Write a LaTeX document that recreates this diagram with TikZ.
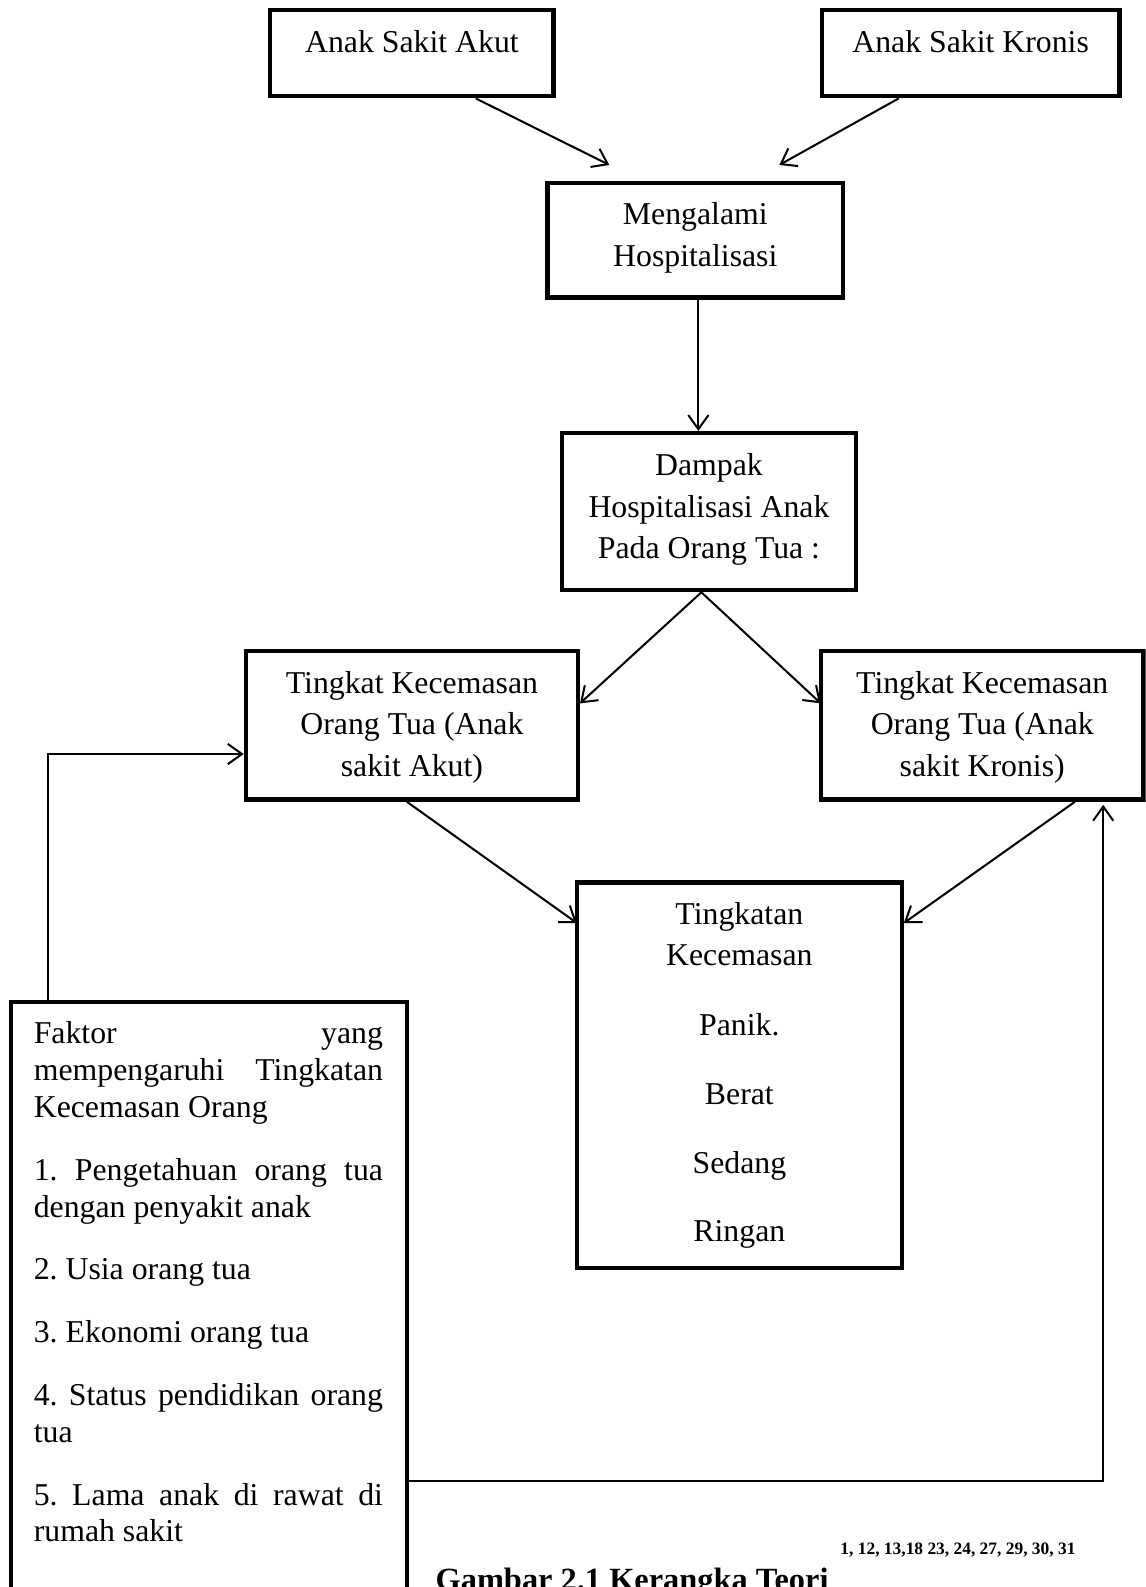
\documentclass[tikz,border=0pt]{standalone}
\usepackage{fontspec}
\setmainfont{Liberation Serif}
\usetikzlibrary{arrows.meta}
\begin{document}
\begin{tikzpicture}[x=0.5pt,y=-0.5pt,
  box/.style={draw, line width=2.2pt, rectangle, inner sep=0pt},
  txt/.style={font=\fontsize{15.7}{20.5}\selectfont, align=center, inner sep=0pt, anchor=base},
  conn/.style={line width=1pt, -{Straight Barb[length=7pt,width=10pt]}}]
\useasboundingbox (0,0) rectangle (1132,1568);
\clip (0,0) rectangle (1132,1568);
% boxes
\node[box, minimum width=140pt, minimum height=42.5pt] (A) at (407,52.5) {};
\node[box, minimum width=147pt, minimum height=42.5pt] (B) at (959,52.5) {};
\node[box, minimum width=146pt, minimum height=56.5pt] (M) at (687,237.5) {};
\node[box, minimum width=145.5pt, minimum height=77.5pt] (D) at (700.5,505.5) {};
\node[box, minimum width=164pt, minimum height=73.5pt] (TA) at (407,716.5) {};
\node[box, minimum width=159.5pt, minimum height=73.5pt] (TK) at (970.5,716.5) {};
\node[box, minimum width=160.5pt, minimum height=190.5pt] (TT) at (730.5,1062.5) {};
\node[box, minimum width=195.5pt, minimum height=295pt] (F) at (206.5,1285) {};
% texts (base anchor = baseline of the last line)
\node[txt] (At) at (407,52) {Anak Sakit Akut};
\node[txt] (Bt) at (959,52) {Anak Sakit Kronis};
\node[txt] (Mt) at (687,263) {Mengalami\\Hospitalisasi};
\node[txt] (Dt) at (700.5,552) {Dampak\\Hospitalisasi Anak\\Pada Orang Tua :};
\node[txt] (TAt) at (407,767) {Tingkat Kecemasan\\Orang Tua (Anak\\sakit Akut)};
\node[txt] (TKt) at (970.5,767) {Tingkat Kecemasan\\Orang Tua (Anak\\sakit Kronis)};
\node[txt] (TTt) at (730.5,1227) {Tingkatan\\Kecemasan\\[14pt]Panik.\\[13.5pt]Berat\\[13.5pt]Sedang\\[13.5pt]Ringan};
\node[inner sep=0pt, anchor=base west, text width=172.5pt, align=justify,
      font=\fontsize{15.7}{18.25}\selectfont] (Ft) at (33,1031)
 {\parskip=12.75pt\parindent=0pt\hyphenpenalty=10000\frenchspacing
  Faktor yang\linebreak mempengaruhi Tingkatan\linebreak Kecemasan Orang\par
  1. Pengetahuan orang tua\linebreak dengan penyakit anak\par
  2. Usia orang tua\par
  3. Ekonomi orang tua\par
  4. Status pendidikan orang\linebreak tua\par
  5. Lama anak di rawat di\linebreak rumah sakit\par};
\node[inner sep=0pt, anchor=base west, font=\bfseries\fontsize{16}{19}\selectfont] (cap) at (430,1571) {Gambar 2.1 Kerangka Teori};
\node[inner sep=0pt, anchor=base west, font=\bfseries\fontsize{8.6}{10}\selectfont] (capref) at (830,1536) {1, 12, 13,18 23, 24, 27, 29, 30, 31};
% free-end coordinates
\coordinate (am) at (602,163);
\coordinate (bm) at (770,163);
\coordinate (dta) at (573,695);
\coordinate (dtk) at (811,695);
\coordinate (tat) at (570,912);
\coordinate (tkt) at (893,912);
\coordinate (fa) at (47,745);
\coordinate (fk) at (1090,1463);
% connectors
\draw[conn] ([xshift=31.5pt]A.south) -- (am);
\draw[conn] ([xshift=-35.5pt]B.south) -- (bm);
\draw[conn] ([xshift=1.5pt]M.south) -- ([xshift=1.5pt]M.south |- D.north);
\draw[conn] ([xshift=-3.75pt]D.south) -- (dta);
\draw[conn] ([xshift=-3.75pt]D.south) -- (dtk);
\draw[conn] ([xshift=-2.5pt]TA.south) -- (tat);
\draw[conn] ([xshift=45.75pt]TK.south) -- (tkt);
\draw[conn] (F.north -| fa) -- (fa) -- (TA.west |- fa);
\draw[conn] (F.east |- fk) -- (fk) -- ([yshift=-1.5pt]TK.south -| fk);
\end{tikzpicture}
\end{document}
